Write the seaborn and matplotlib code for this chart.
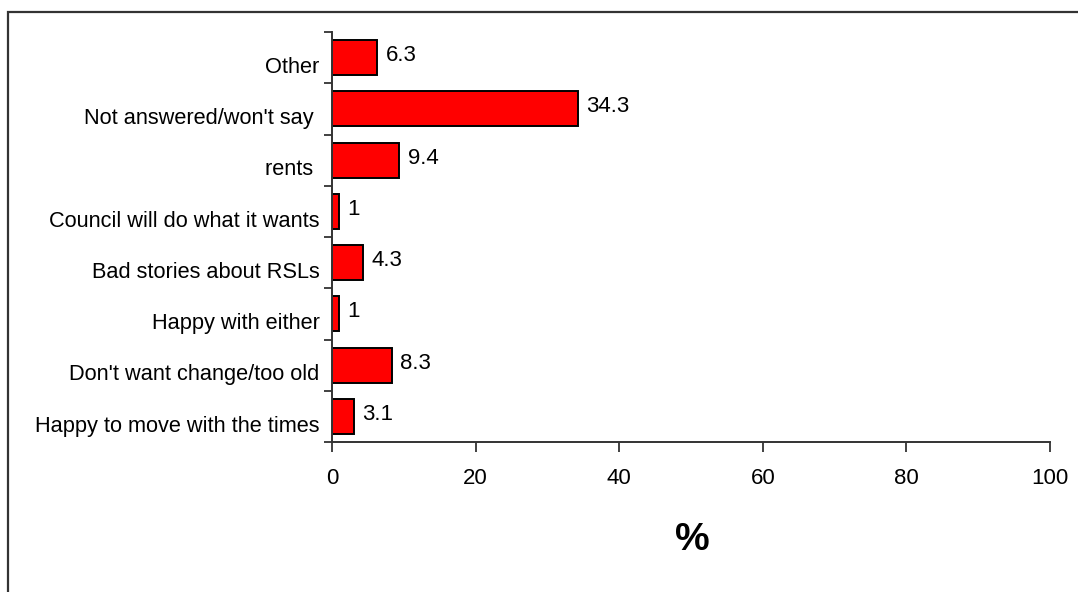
import numpy as np
import pandas as pd
import seaborn as sns
import matplotlib.pyplot as plt
from matplotlib.patches import Rectangle

# data, top to bottom as in the chart
categories = [
    "Other",
    "Not answered/won't say ",
    "rents ",
    "Council will do what it wants",
    "Bad stories about RSLs",
    "Happy with either",
    "Don't want change/too old",
    "Happy to move with the times",
]
values = [6.3, 34.3, 9.4, 1, 4.3, 1, 8.3, 3.1]
value_labels = ["6.3", "34.3", "9.4", "1", "4.3", "1", "8.3", "3.1"]
x_ticks = [0, 20, 40, 60, 80, 100]
x_label = "%"


def make_chart(df):
    sns.set_style("white")
    plt.rcParams["font.family"] = ["Liberation Sans", "DejaVu Sans"]
    plt.rcParams["text.color"] = "black"

    fig = plt.figure(figsize=(10.78, 5.92), dpi=100)
    ax = fig.add_axes([332 / 1078, 1 - 442 / 592, 718 / 1078, 410 / 592])

    sns.barplot(data=df, x="value", y="category", orient="h", color="#ff0000",
                edgecolor="black", linewidth=1.4, width=0.68, saturation=1, ax=ax)

    ax.set_xlim(0, 100)
    ax.set_ylim(len(categories) - 0.5, -0.5)
    ax.set_xticks(x_ticks)
    ax.set_xticklabels([str(t) for t in x_ticks], fontsize=16, color="black")

    # tick marks sit between the bars; the labels sit a little below the bar centres
    ax.set_yticks(np.arange(-0.5, len(categories)))
    ax.set_yticklabels([])
    ax.set_yticks(np.arange(len(categories)) + 0.14, minor=True)
    ax.set_yticklabels(df["category"], minor=True, fontsize=15.7, color="black")
    ax.tick_params(axis="y", which="major", length=6, width=1.3, color="#333333", direction="out", left=True)
    ax.tick_params(axis="y", which="minor", length=0, pad=9)
    ax.tick_params(axis="x", length=7, width=1.3, color="#333333", direction="out", pad=12, bottom=True)

    for side in ["top", "right"]:
        ax.spines[side].set_visible(False)
    for side in ["left", "bottom"]:
        ax.spines[side].set_color("#333333")
        ax.spines[side].set_linewidth(1.4)

    for i, (v, lab) in enumerate(zip(df["value"], value_labels)):
        ax.annotate(lab, (v, i), xytext=(6, 1.5), textcoords="offset points",
                    va="center", ha="left", fontsize=16, color="black")

    ax.set_ylabel("")
    ax.set_xlabel("")
    fig.text(692 / 1078, 1 - 540 / 592, x_label, fontsize=28, fontweight="bold",
             ha="center", va="center", color="black")

    # chart frame (partly outside the image on the right and bottom)
    fig.patches.append(Rectangle((8 / 1078, -0.1), 1.2, 1 - 12 / 592 + 0.1,
                                 transform=fig.transFigure, fill=False,
                                 edgecolor="#333333", linewidth=1.6))

    fig.savefig("out.png", dpi=100)


df = pd.DataFrame({"category": categories, "value": values})
make_chart(df)
